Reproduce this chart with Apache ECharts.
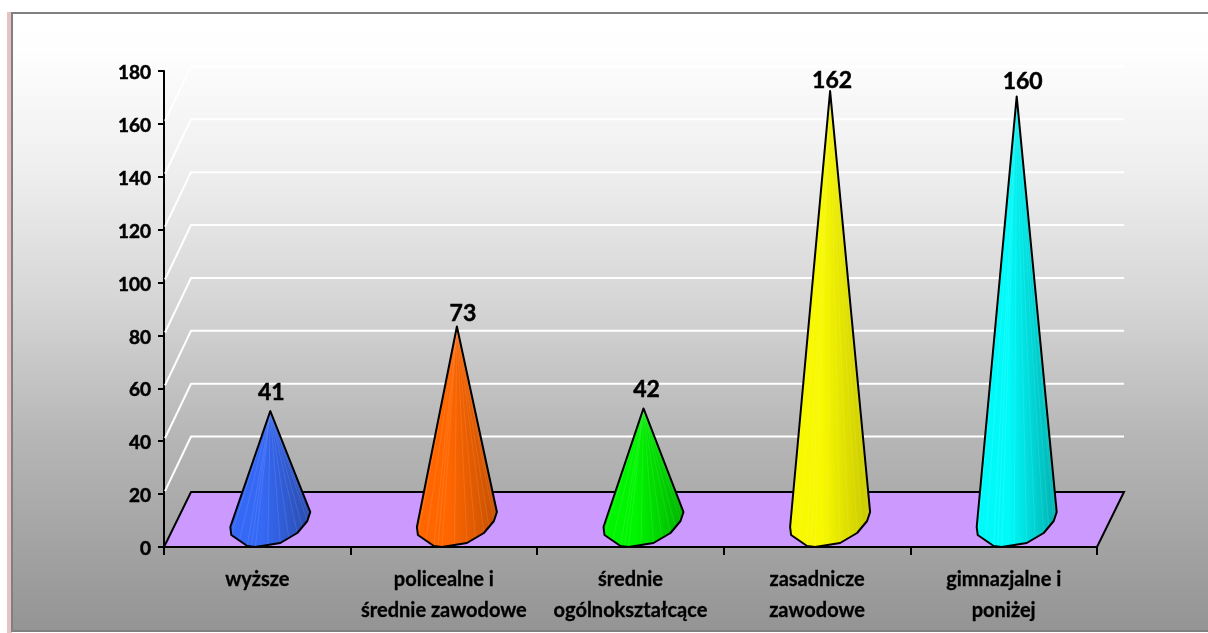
<!DOCTYPE html>
<html>
<head>
<meta charset="utf-8">
<style>html,body{margin:0;padding:0;background:#fff}#c{width:1208px;height:633px}</style>
<script src="https://cdn.jsdelivr.net/npm/echarts@6/dist/echarts.min.js"></script>
</head>
<body>
<div id="c"></div>
<script>
const categories = ['wyższe', 'policealne i\nśrednie zawodowe', 'średnie\nogólnokształcące', 'zasadnicze\nzawodowe', 'gimnazjalne i\nponiżej'];
const values = [41, 73, 42, 162, 160];
const lightColors = ['#3568f5', '#ff6600', '#00f500', '#f8f800', '#00fafa'];
const darkColors = ['#2a4cac', '#c65000', '#00b400', '#c8c800', '#00b0b0'];
const wallTicks = [20, 40, 60, 80, 100, 120, 140, 160];
const axisMax = 180, axisStep = 20;

const chart = echarts.init(document.getElementById('c'), null, {renderer: 'canvas'});
const DX = 27, DY = 55, WALL_DY = 57.5;
const FONT = 'Lato, "Open Sans", sans-serif';
const baseOutline = [[-27,-20],[-26,-12],[-10,-1],[-2,0],[23,-4],[40,-14],[50,-26],[53,-35]];
const labelNudgeY = [0, 6, 0, 8, 4];
const labelNudgeX = [1, 6, 3, 2, 6];

function renderWall(params, api) {
  const v = api.value(0);
  const half = api.size([1, 0])[0] / 2;
  const p = api.coord([0, v]);
  const end = api.coord([categories.length - 1, v]);
  const xl = p[0] - half, xr = end[0] + half, y = p[1];
  return {
    type: 'polyline',
    shape: {points: [[xl + 1, y - 3], [xl + DX, y - WALL_DY], [xr + DX, y - WALL_DY]]},
    style: {stroke: '#ffffff', lineWidth: 2, fill: null}
  };
}
function renderFloor(params, api) {
  const half = api.size([1, 0])[0] / 2;
  const a = api.coord([0, 0]), b = api.coord([categories.length - 1, 0]);
  const xl = a[0] - half, xr = b[0] + half, y = a[1];
  return {
    type: 'polygon',
    shape: {points: [[xl, y], [xr, y], [xr + DX, y - DY], [xl + DX, y - DY]]},
    style: {fill: '#cc99ff', stroke: '#000', lineWidth: 2}
  };
}
function renderCone(params, api) {
  const i = api.value(0), v = api.value(1);
  const base = api.coord([i, 0]);
  const top = api.coord([i, v]);
  const apex = [top[0] + 13, top[1] - DY / 2];
  const pts = baseOutline.map(o => [base[0] + o[0], base[1] + o[1]]);
  const children = [{
    type: 'polygon',
    shape: {points: [apex].concat(pts)},
    style: {
      fill: new echarts.graphic.LinearGradient(0, 0, 1, 0, [
        {offset: 0, color: lightColors[i]},
        {offset: 0.4, color: lightColors[i]},
        {offset: 1, color: darkColors[i]}
      ]),
      stroke: null
    }
  }];
  for (let k = 1; k < pts.length - 1; k++) {
    for (let t = 0; t < 2; t++) {
      const a = pts[k], b = pts[k + 1];
      const q = [a[0] + (b[0] - a[0]) * t / 2, a[1] + (b[1] - a[1]) * t / 2];
      children.push({
        type: 'line',
        shape: {x1: apex[0], y1: apex[1], x2: q[0], y2: q[1]},
        style: {stroke: 'rgba(255,255,255,0.1)', lineWidth: 1}
      });
    }
  }
  children.push({
    type: 'polygon',
    shape: {points: [apex].concat(pts)},
    style: {fill: null, stroke: '#000', lineWidth: 2, lineJoin: 'round'}
  });
  children.push({
    type: 'text',
    style: {
      x: apex[0] + labelNudgeX[i], y: apex[1] - 7 + labelNudgeY[i], text: String(v),
      font: 'bold 23px ' + FONT, fill: '#000', stroke: '#000', lineWidth: 0.5,
      textAlign: 'center', textVerticalAlign: 'bottom'
    }
  });
  return {type: 'group', children};
}

chart.setOption({
  animation: false,
  graphic: [
    {type: 'rect', z: -10, shape: {x: 7, y: 12, width: 5, height: 621}, style: {fill: '#e6c3c3'}},
    {type: 'rect', z: -9, shape: {x: 12, y: 13, width: 1196, height: 618},
     style: {
       fill: new echarts.graphic.LinearGradient(0, 0, 0, 1, [
         {offset: 0, color: '#ffffff'}, {offset: 0.06, color: '#fefefe'},
         {offset: 0.257, color: '#eeeeee'}, {offset: 0.464, color: '#d6d6d6'},
         {offset: 0.686, color: '#b6b6b6'}, {offset: 1, color: '#949494'}
       ]), stroke: null
     }},
    {type: 'polyline', z: -8, shape: {points: [[1208, 13], [12, 13], [12, 631], [1208, 631]]},
     style: {fill: null, stroke: '#808080', lineWidth: 2}}
  ],
  grid: {left: 164, right: 111, top: 71, bottom: 86, containLabel: false},
  xAxis: {
    type: 'category', data: categories, boundaryGap: true,
    axisLine: {lineStyle: {color: '#000', width: 2}},
    axisTick: {show: true, alignWithLabel: false, length: 8, lineStyle: {color: '#000', width: 2}},
    axisLabel: {interval: 0, color: '#000', fontFamily: FONT, fontWeight: 'bold', fontSize: 20, lineHeight: 31, margin: 17,
                textBorderColor: '#000', textBorderWidth: 0.3},
    splitLine: {show: false}
  },
  yAxis: {
    type: 'value', min: 0, max: axisMax, interval: axisStep,
    axisLine: {show: true, lineStyle: {color: '#000', width: 2}},
    axisTick: {show: true, length: 6, lineStyle: {color: '#000', width: 2}},
    axisLabel: {margin: 13, formatter: '{t|{value}}',
                rich: {t: {color: '#000', fontFamily: FONT, fontWeight: 'bold', fontSize: 19, padding: [4, 0, 0, 0],
                           textBorderColor: '#000', textBorderWidth: 0.5}}},
    splitLine: {show: false}
  },
  series: [
    {type: 'custom', z: 1, coordinateSystem: 'cartesian2d', clip: false, silent: true,
     data: wallTicks.map(v => [v]), encode: {y: 0}, renderItem: renderWall},
    {type: 'custom', z: 2, coordinateSystem: 'cartesian2d', clip: false, silent: true,
     data: [[0]], encode: {y: 0}, renderItem: renderFloor},
    {type: 'custom', z: 3, coordinateSystem: 'cartesian2d', clip: false, silent: true,
     data: values.map((v, i) => [i, v]), encode: {x: 0, y: 1}, renderItem: renderCone}
  ]
});
</script>
</body>
</html>
